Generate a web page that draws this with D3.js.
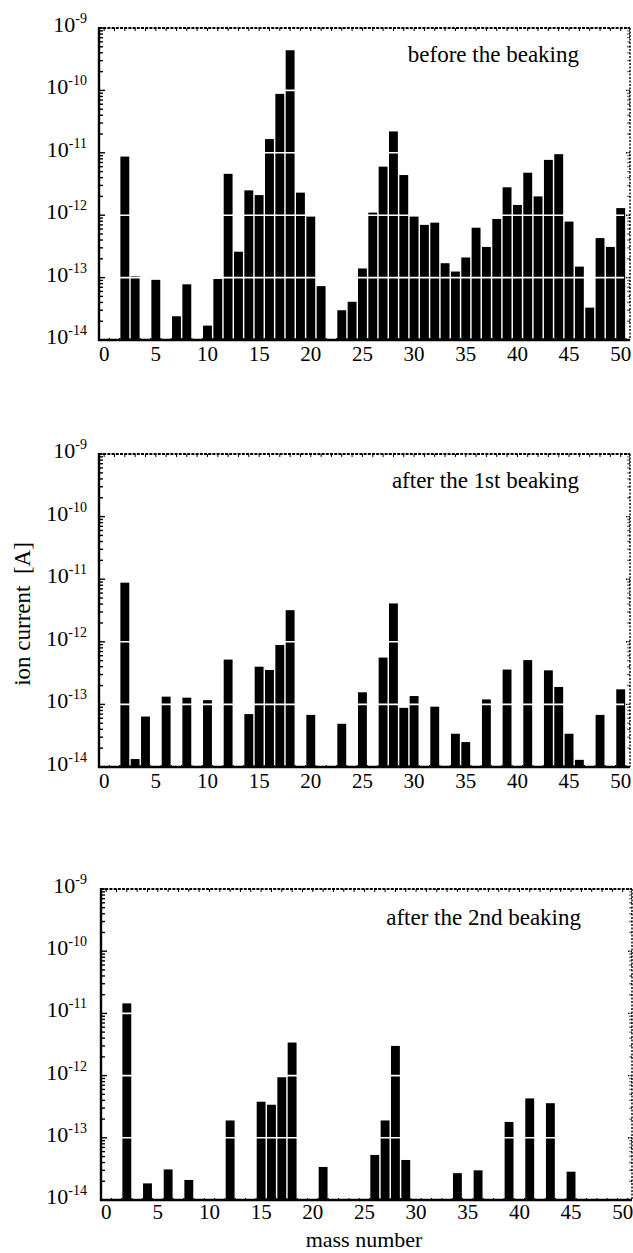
<!DOCTYPE html>
<html>
<head>
<meta charset="utf-8">
<script src="https://cdn.jsdelivr.net/npm/d3@7"></script>
<style>
body{margin:0;background:#fff;}
text{font-family:"Liberation Serif","Times New Roman",serif;fill:#000;}
</style>
</head>
<body>
<script>
(function (){

    //mass numbers 0..50, value per mass, null = no peak
    var masses = d3.range(0, 51);

    var beforeBaking = [null, null, 8.7e-12, 1.05e-13, null, 9.2e-14, null, 2.4e-14, 7.8e-14, null,
        1.7e-14, 9.5e-14, 4.6e-12, 2.6e-13, 2.5e-12, 2.1e-12, 1.66e-11, 8.8e-11, 4.4e-10, 2.3e-12,
        9.5e-13, 7.3e-14, null, 3.0e-14, 4.1e-14, 1.4e-13, 1.1e-12, 6.0e-12, 2.2e-11, 4.4e-12,
        9.5e-13, 7.0e-13, 7.6e-13, 1.7e-13, 1.25e-13, 2.1e-13, 6.3e-13, 3.1e-13, 8.7e-13, 2.8e-12,
        1.46e-12, 4.8e-12, 2.0e-12, 7.7e-12, 9.5e-12, 7.9e-13, 1.5e-13, 3.3e-14, 4.3e-13, 3.1e-13,
        1.3e-12];

    var after1stBaking = [null, null, 8.8e-12, 1.34e-14, 6.4e-14, null, 1.33e-13, null, 1.28e-13, null,
        1.17e-13, null, 5.2e-13, null, 7.0e-14, 4.0e-13, 3.55e-13, 8.9e-13, 3.2e-12, null,
        6.8e-14, null, null, 4.9e-14, null, 1.56e-13, null, 5.6e-13, 4.1e-12, 8.8e-14,
        1.36e-13, null, 9.2e-14, null, 3.4e-14, 2.5e-14, null, 1.2e-13, null, 3.6e-13,
        null, 5.1e-13, null, 3.5e-13, 1.9e-13, 3.4e-14, 1.3e-14, null, 6.8e-14, null,
        1.74e-13];

    var after2ndBaking = [null, null, 1.45e-11, null, 1.85e-14, null, 3.1e-14, null, 2.1e-14, null,
        null, null, 1.9e-13, null, null, 3.8e-13, 3.4e-13, 9.4e-13, 3.4e-12, null,
        null, 3.4e-14, null, null, null, null, 5.3e-14, 1.9e-13, 3.0e-12, 4.4e-14,
        null, null, null, null, 2.7e-14, null, 3.0e-14, null, null, 1.8e-13,
        null, 4.3e-13, null, 3.6e-13, null, 2.85e-14, null, null, null, null,
        null];

    var panelTitles = ["before the beaking", "after the 1st beaking", "after the 2nd beaking"];
    var massTicks = [0, 5, 10, 15, 20, 25, 30, 35, 40, 45, 50];
    var decadeExponents = [-9, -10, -11, -12, -13, -14];

    var series = [beforeBaking, after1stBaking, after2ndBaking];

    //frame of each panel
    var frames = [
        {left: 99, top: 28, bottom: 340},
        {left: 99, top: 454, bottom: 767},
        {left: 101, top: 889, bottom: 1200}
    ];

    var width = 633, height = 1253;

    var svg = d3.select("body")
        .append("svg")
        .attr("width", width)
        .attr("height", height);

    frames.forEach(function(f, i){
        drawPanel(f, series[i], panelTitles[i], i == 2);
    });

    //y axis label
    svg.append("text")
        .attr("transform", "translate(30,614) rotate(-90)")
        .attr("text-anchor", "middle")
        .style("font-size", "23px")
        .attr("xml:space", "preserve")
        .text("ion current  [A]");

    //x axis label
    svg.append("text")
        .attr("x", 364)
        .attr("y", 1247)
        .attr("text-anchor", "middle")
        .style("font-size", "22px")
        .text("mass number");

    function drawPanel(f, values, title, last){
        var right = f.left + 531;

        var x = d3.scaleLinear()
            .domain([-0.5, 50.9])
            .range([f.left, right]);

        var y = d3.scaleLog()
            .domain([1e-14, 1e-9])
            .range([f.bottom, f.top]);

        var g = svg.append("g");
        var bw = (x(1) - x(0)) * 0.86;

        var data = masses.map(function(m){ return {mass: m, value: values[m]}; })
            .filter(function(d){ return d.value != null; });

        //bars
        g.selectAll(".bar")
            .data(data)
            .enter()
            .append("rect")
            .attr("class", "bar")
            .attr("x", function(d){ return x(d.mass) - bw / 2; })
            .attr("width", bw)
            .attr("y", function(d){ return y(d.value); })
            .attr("height", function(d){ return f.bottom - y(d.value); })
            .style("fill", "#000");

        //white decade lines running through the bars
        g.selectAll(".grid")
            .data([1e-13, 1e-12, 1e-11, 1e-10])
            .enter()
            .append("line")
            .attr("x1", f.left + 8)
            .attr("x2", right - 6)
            .attr("y1", function(d){ return y(d); })
            .attr("y2", function(d){ return y(d); })
            .style("stroke", "#fff")
            .style("stroke-width", 1.6);

        var logTicks = y.ticks();
        function isMajor(d){
            var e = Math.log10(d);
            return Math.abs(e - Math.round(e)) < 1e-6;
        }

        //left axis, ticks pointing in
        g.selectAll(".ltick")
            .data(logTicks)
            .enter()
            .append("line")
            .attr("x1", f.left)
            .attr("x2", function(d){ return f.left + (isMajor(d) ? 6 : 4); })
            .attr("y1", function(d){ return y(d); })
            .attr("y2", function(d){ return y(d); })
            .style("stroke", "#000")
            .style("stroke-width", 1.4);

        //right axis ticks
        g.selectAll(".rtick")
            .data(logTicks)
            .enter()
            .append("line")
            .attr("x1", right)
            .attr("x2", function(d){ return right - (isMajor(d) ? 5 : 3); })
            .attr("y1", function(d){ return y(d); })
            .attr("y2", function(d){ return y(d); })
            .style("stroke", "#000")
            .style("stroke-width", 1.4)
            .style("stroke-dasharray", "1.5,1");

        //top axis ticks at every mass
        g.selectAll(".ttick")
            .data(masses)
            .enter()
            .append("line")
            .attr("x1", function(d){ return x(d); })
            .attr("x2", function(d){ return x(d); })
            .attr("y1", f.top)
            .attr("y2", f.top + 3)
            .style("stroke", "#000")
            .style("stroke-width", 1);

        //bottom axis ticks at every mass
        g.selectAll(".btick")
            .data(masses)
            .enter()
            .append("line")
            .attr("x1", function(d){ return x(d) + 0.5 * (x(1) - x(0)); })
            .attr("x2", function(d){ return x(d) + 0.5 * (x(1) - x(0)); })
            .attr("y1", f.bottom)
            .attr("y2", f.bottom - 2)
            .style("stroke", "#000")
            .style("stroke-width", 1);

        //frame: solid left and bottom, dotted top and right
        g.append("line")
            .attr("x1", f.left).attr("x2", f.left)
            .attr("y1", f.top - 1).attr("y2", f.bottom + 1)
            .style("stroke", "#000").style("stroke-width", 2.4);
        g.append("line")
            .attr("x1", f.left - 1).attr("x2", right)
            .attr("y1", f.bottom).attr("y2", f.bottom)
            .style("stroke", "#000").style("stroke-width", 2.4);
        g.append("line")
            .attr("x1", f.left).attr("x2", right)
            .attr("y1", f.top).attr("y2", f.top)
            .style("stroke", "#000").style("stroke-width", 2.2)
            .style("stroke-dasharray", "3,1.2");
        g.append("line")
            .attr("x1", right).attr("x2", right)
            .attr("y1", f.top).attr("y2", f.bottom)
            .style("stroke", "#000").style("stroke-width", 1.4)
            .style("stroke-dasharray", "2,1.5");

        //y tick labels 10^n
        var ylab = g.selectAll(".ylab")
            .data(decadeExponents)
            .enter()
            .append("text")
            .attr("x", 87)
            .attr("y", function(d){ return y(Math.pow(10, d)) + 4; })
            .attr("text-anchor", "end")
            .style("font-size", "22px");
        ylab.append("tspan").text("10");
        ylab.append("tspan")
            .attr("dy", -9)
            .style("font-size", "14px")
            .text(function(d){ return d; });

        //x tick labels
        g.selectAll(".xlab")
            .data(massTicks)
            .enter()
            .append("text")
            .attr("x", function(d){ return x(d); })
            .attr("y", f.bottom + (last ? 19 : 21))
            .attr("text-anchor", "middle")
            .style("font-size", "21px")
            .text(function(d){ return d; });

        //panel title
        g.append("text")
            .attr("x", right - 51)
            .attr("y", f.top + (last ? 36 : 34))
            .attr("text-anchor", "end")
            .style("font-size", "23px")
            .text(title);
    }

})();
</script>
</body>
</html>
